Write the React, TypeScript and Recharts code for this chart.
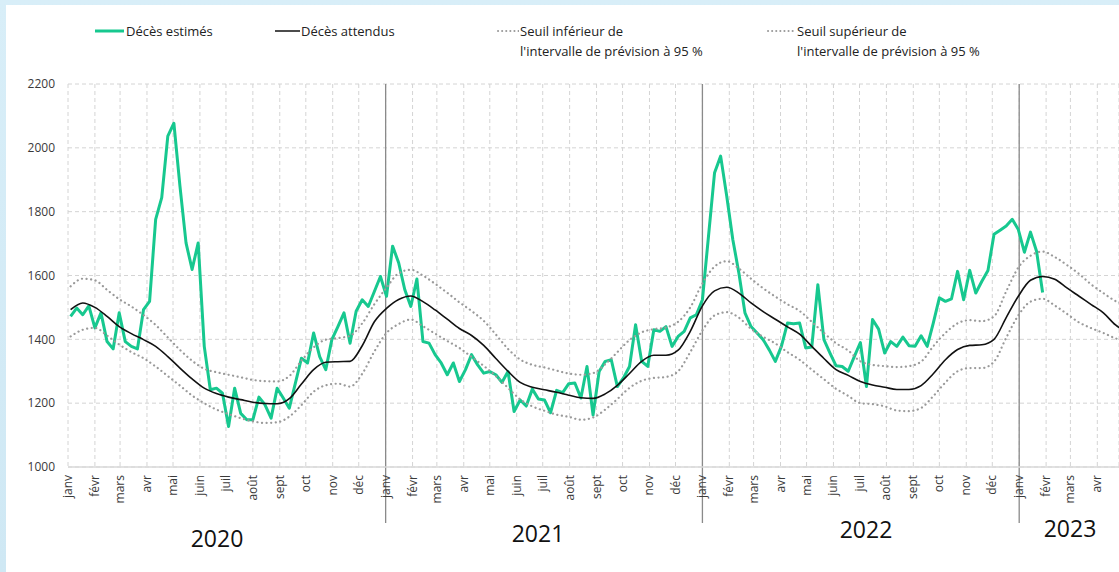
import React from "react"
import { LineChart, Line, XAxis, YAxis, CartesianGrid, ReferenceLine } from "recharts"

const MONTHS = ["janv", "févr", "mars", "avr", "mai", "juin", "juil", "août", "sept", "oct", "nov", "déc"]
const YEARS = [2020, 2021, 2022, 2023]
const Y_TICKS = [1000, 1200, 1400, 1600, 1800, 2000, 2200]

// décès estimés, une valeur par semaine
const estimated2020 = [
  1472, 1498, 1477, 1505, 1436, 1483, 1393, 1370, 1483, 1393,
  1378, 1370, 1493, 1519, 1776, 1844, 2037, 2077, 1880, 1702,
  1619, 1702, 1378, 1242, 1247, 1231, 1127, 1247, 1168, 1148,
  1148, 1219, 1195, 1153, 1247, 1216, 1184, 1263, 1341, 1326,
  1420, 1346, 1305, 1399, 1440, 1483, 1388, 1488, 1524, 1503,
  1550, 1597, 1535
]
const estimated2021 = [
  1692, 1640, 1556, 1503, 1589, 1393, 1388, 1352, 1326, 1289,
  1326, 1268, 1305, 1352, 1320, 1294, 1299, 1289, 1265, 1299,
  1174, 1210, 1191, 1244, 1213, 1210, 1170, 1240, 1233, 1261,
  1263, 1216, 1315, 1163, 1299, 1331, 1336, 1252, 1279, 1315,
  1446, 1331, 1315, 1430, 1425, 1440, 1378, 1409, 1425, 1467,
  1477, 1524
]
const estimated2022 = [
  1723, 1922, 1974, 1849, 1713, 1608, 1483, 1440, 1420, 1399,
  1367, 1331, 1378, 1451, 1449, 1451, 1373, 1376, 1571, 1399,
  1357, 1317, 1315, 1300, 1346, 1390, 1252, 1462, 1432, 1357,
  1393, 1378, 1407, 1380, 1378, 1411, 1378, 1451, 1530, 1519,
  1527, 1613, 1524, 1616, 1545, 1582, 1616, 1729, 1742, 1755,
  1776, 1744
]
const estimated2023 = [1673, 1736, 1676, 1547]

// attendus et bornes de l'intervalle, un point toutes les deux semaines
const expected = [
  1493, 1514, 1500, 1472, 1440, 1418, 1399, 1378, 1346, 1310,
  1276, 1247, 1230, 1219, 1211, 1203, 1199, 1198, 1214, 1260,
  1305, 1328, 1330, 1331, 1380, 1455, 1497, 1525, 1536, 1518,
  1492, 1463, 1434, 1412, 1381, 1340, 1300, 1265, 1250, 1242,
  1234, 1225, 1217, 1215, 1229, 1256, 1293, 1331, 1350, 1350,
  1366, 1425, 1505, 1552, 1563, 1545, 1514, 1487, 1463, 1439,
  1416, 1378, 1340, 1305, 1287, 1268, 1257, 1250, 1243, 1243,
  1255, 1292, 1336, 1368, 1381, 1383, 1400, 1468, 1535, 1585,
  1597, 1588, 1561, 1535, 1509, 1483, 1445, 1420
]
const upperBound = [
  1566, 1590, 1585, 1555, 1526, 1503, 1476, 1445, 1406, 1367,
  1333, 1308, 1297, 1289, 1281, 1273, 1269, 1268, 1285, 1333,
  1375, 1399, 1404, 1411, 1450, 1510, 1562, 1607, 1618, 1600,
  1574, 1546, 1516, 1489, 1458, 1415, 1370, 1337, 1320, 1312,
  1302, 1293, 1289, 1294, 1322, 1360, 1398, 1422, 1432, 1437,
  1455, 1500, 1575, 1628, 1645, 1622, 1590, 1560, 1534, 1510,
  1489, 1455, 1420, 1388, 1365, 1331, 1320, 1316, 1313, 1316,
  1330, 1378, 1420, 1450, 1460, 1457, 1472, 1550, 1625, 1662,
  1675, 1658, 1633, 1605, 1572, 1545, 1520, 1505
]
const lowerBound = [
  1409, 1430, 1436, 1412, 1384, 1360, 1341, 1315, 1285, 1255,
  1224, 1200, 1180, 1166, 1153, 1143, 1138, 1140, 1158, 1194,
  1236, 1256, 1261, 1252, 1292, 1362, 1420, 1448, 1462, 1441,
  1418, 1395, 1373, 1345, 1317, 1285, 1248, 1212, 1190, 1176,
  1164, 1157, 1148, 1155, 1180, 1213, 1248, 1270, 1279, 1282,
  1300, 1360, 1428, 1475, 1485, 1468, 1433, 1408, 1387, 1360,
  1336, 1305, 1275, 1245, 1223, 1200, 1197, 1190, 1177, 1175,
  1185, 1222, 1265, 1300, 1310, 1310, 1330, 1405, 1475, 1518,
  1527, 1506, 1480, 1453, 1435, 1420, 1403, 1392
]

const GREEN = "#17c88f"
const FONT = "'Open Sans', 'Noto Sans', sans-serif"
const DAY_MS = 86400000
const START = Date.UTC(2020, 0, 1)
const LAST_DAY = 1211 // la figure est coupée fin avril 2023

const dayOf = (y: number, m: number) => (Date.UTC(y, m, 1) - START) / DAY_MS

const estimatedData = [...estimated2020, ...estimated2021, ...estimated2022, ...estimated2023].map((v, i) => ({
  day: 3 + 7 * i,
  estimated: v
}))

const bandData = expected.map((v, i) => ({
  day: 3 + 14 * i,
  expected: v,
  upper: upperBound[i],
  lower: lowerBound[i]
}))

const monthTicks: number[] = []
const monthLabel: Record<number, string> = {}
YEARS.forEach((y) => {
  MONTHS.forEach((name, m) => {
    const d = dayOf(y, m)
    if (d <= LAST_DAY) {
      monthTicks.push(d)
      monthLabel[d] = name
    }
  })
})
const yearStarts = YEARS.slice(1).map((y) => dayOf(y, 0))

const yearLabels = [
  { text: "2020", x: 217, y: 538 },
  { text: "2021", x: 538, y: 533 },
  { text: "2022", x: 866, y: 529 },
  { text: "2023", x: 1070, y: 528 }
]

function MonthTick(props: any) {
  const { x, y, payload } = props
  return (
    <text
      x={x}
      y={y}
      dy={4}
      transform={`rotate(-90 ${x} ${y})`}
      textAnchor="end"
      fontSize={12}
      fontFamily={FONT}
      fill="#3a3a3a"
    >
      {monthLabel[payload.value]}
    </text>
  )
}

function YearLine(props: any) {
  const top = Math.min(props.y1, props.y2)
  const bottom = Math.max(props.y1, props.y2)
  return <line x1={props.x1} x2={props.x2} y1={top} y2={bottom + 56} stroke="#8a8a8a" strokeWidth={1.3} />
}

function LegendSample({ kind, width }: { kind: string; width: number }) {
  return (
    <svg width={width} height={8} style={{ display: "block" }}>
      {kind === "green" && <line x1={0} x2={width} y1={4} y2={4} stroke={GREEN} strokeWidth={3} />}
      {kind === "black" && <line x1={0} x2={width} y1={4} y2={4} stroke="#111" strokeWidth={1.5} />}
      {kind === "dots" && (
        <line x1={1} x2={width} y1={4} y2={4} stroke="#9a9a9a" strokeWidth={2} strokeDasharray="0.1 4" strokeLinecap="round" />
      )}
    </svg>
  )
}

const legendItems = [
  { kind: "green", sampleX: 95, sampleW: 29, textX: 126, lines: ["Décès estimés"] },
  { kind: "black", sampleX: 275, sampleW: 25, textX: 301, lines: ["Décès attendus"] },
  { kind: "dots", sampleX: 497, sampleW: 22, textX: 520, lines: ["Seuil inférieur de", "l'intervalle de prévision à 95 %"] },
  { kind: "dots", sampleX: 767, sampleW: 28, textX: 797, lines: ["Seuil supérieur de", "l'intervalle de prévision à 95 %"] }
]

export default function App() {
  return (
    <div
      style={{
        position: "absolute",
        left: 0,
        top: 0,
        width: 1119,
        height: 572,
        overflow: "hidden",
        background: "linear-gradient(180deg, #d8eef8 0%, #cfe8f4 100%)",
        fontFamily: FONT
      }}
    >
      <div style={{ position: "absolute", left: 6, top: 5, right: 0, bottom: 0, background: "#fff" }} />

      {legendItems.map((item, i) => (
        <React.Fragment key={i}>
          <div style={{ position: "absolute", left: item.sampleX, top: 27 }}>
            <LegendSample kind={item.kind} width={item.sampleW} />
          </div>
          <div
            style={{
              position: "absolute",
              left: item.textX,
              top: 21,
              fontSize: 13,
              lineHeight: "20px",
              color: "#222",
              whiteSpace: "nowrap"
            }}
          >
            {item.lines.map((l) => (
              <div key={l}>{l}</div>
            ))}
          </div>
        </React.Fragment>
      ))}

      <div style={{ position: "absolute", left: 0, top: 0 }}>
        <LineChart width={1119} height={572} margin={{ top: 84, right: 0, bottom: 65, left: 0 }}>
          <CartesianGrid stroke="#d4d4d4" strokeDasharray="4 3" />
          <XAxis
            dataKey="day"
            type="number"
            domain={[0, LAST_DAY]}
            allowDataOverflow
            ticks={monthTicks}
            interval={0}
            height={40}
            tickLine={false}
            axisLine={{ stroke: "#d9d9d9", strokeWidth: 1.5 }}
            tick={<MonthTick />}
          />
          <YAxis
            type="number"
            domain={[1000, 2200]}
            ticks={Y_TICKS}
            width={68}
            tickLine={false}
            axisLine={false}
            tickMargin={7}
            tick={{ fontSize: 12, fill: "#3a3a3a", fontFamily: FONT }}
          />
          {yearStarts.map((d) => (
            <ReferenceLine key={d} x={d} stroke="#8a8a8a" shape={<YearLine />} />
          ))}
          <Line
            data={estimatedData}
            dataKey="estimated"
            type="linear"
            stroke={GREEN}
            strokeWidth={3}
            strokeLinejoin="round"
            dot={false}
            isAnimationActive={false}
          />
          <Line
            data={bandData}
            dataKey="expected"
            type="monotone"
            stroke="#111"
            strokeWidth={1.6}
            dot={false}
            isAnimationActive={false}
          />
          <Line
            data={bandData}
            dataKey="lower"
            type="monotone"
            stroke="#9a9a9a"
            strokeWidth={2.2}
            strokeDasharray="0.1 4.5"
            strokeLinecap="round"
            dot={false}
            isAnimationActive={false}
          />
          <Line
            data={bandData}
            dataKey="upper"
            type="monotone"
            stroke="#9a9a9a"
            strokeWidth={2.2}
            strokeDasharray="0.1 4.5"
            strokeLinecap="round"
            dot={false}
            isAnimationActive={false}
          />
        </LineChart>
      </div>

      {yearLabels.map((l) => (
        <div
          key={l.text}
          style={{
            position: "absolute",
            left: l.x,
            top: l.y,
            transform: "translate(-50%, -50%)",
            fontSize: 23,
            lineHeight: 1,
            color: "#111"
          }}
        >
          {l.text}
        </div>
      ))}
    </div>
  )
}
